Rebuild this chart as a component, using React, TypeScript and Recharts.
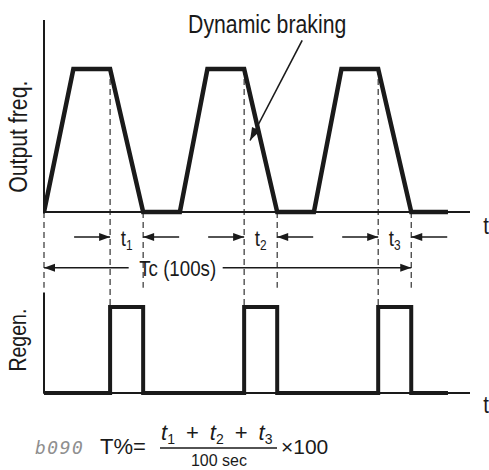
import { ComposedChart, Line, XAxis, YAxis, ReferenceLine } from 'recharts'

// time (s) and relative level of the output frequency
const freqTime = [0, 8, 18, 27, 37, 44.5, 54.5, 63.5, 73.5, 81, 91, 100, 110]
const freqLevel = [0, 1, 1, 0, 0, 1, 1, 0, 0, 1, 1, 0, 0]

// regenerative braking on/off
const regenTime = [0, 18, 18, 27, 27, 54.5, 54.5, 63.5, 63.5, 91, 91, 100, 100, 110]
const regenLevel = [0, 0, 1, 1, 0, 0, 1, 1, 0, 0, 1, 1, 0, 0]

// braking windows t1, t2, t3
const brakeStart = [18, 54.5, 91]
const brakeEnd = [27, 63.5, 100]
const brakeSubs = ['1', '2', '3']

const cycleEnd = 100
const cycleLabel = 'Tc (100s)'
const timeMax = 116

const FONT = "'Liberation Sans', Arial, sans-serif"
const SX = 0.85 // squeeze to mimic a condensed face
const INK = '#1a1a1a'

// layout of the two panels inside one plot area
const PLOT_TOP = 20
const PLOT_BOTTOM = 395
const F_ZERO = 212
const F_ONE = 69
const R_ZERO = 393
const R_ONE = 307

const fUnit = F_ZERO - F_ONE
const rUnit = R_ZERO - R_ONE
const fDomain = [-(PLOT_BOTTOM - F_ZERO) / fUnit, (F_ZERO - PLOT_TOP) / fUnit]
const rDomain = [-(PLOT_BOTTOM - R_ZERO) / rUnit, (R_ZERO - PLOT_TOP) / rUnit]
// express a regen level on the freq axis
const regenToFreq = (v: number) => (F_ZERO - (R_ZERO - v * rUnit)) / fUnit

// annotation rows, in freq-axis units
const tRow = -0.175
const tcRow = -0.39
const guideBottom = -0.53
const regenAxisTop = 1.17

const freqData = freqTime.map((t, i) => ({ t, v: freqLevel[i] }))
const regenData = regenTime.map((t, i) => ({ t, v: regenLevel[i] }))

function Narrow({ x, y, size, rotate = 0, anchor = 'middle', children }: any) {
  return (
    <text
      transform={`translate(${x} ${y}) rotate(${rotate}) scale(${SX} 1)`}
      textAnchor={anchor}
      fontFamily={FONT}
      fontSize={size}
      fill={INK}
    >
      {children}
    </text>
  )
}

function head(x1: number, y1: number, x2: number, y2: number, len = 11, half = 4) {
  const a = Math.atan2(y2 - y1, x2 - x1)
  const bx = x2 - len * Math.cos(a)
  const by = y2 - len * Math.sin(a)
  const px = -Math.sin(a) * half
  const py = Math.cos(a) * half
  return `${x2},${y2} ${bx + px},${by + py} ${bx - px},${by - py}`
}

const axisShape = (label: string, dy: number) => (p: any) => (
  <g>
    <line x1={p.x1} y1={p.y1} x2={p.x2} y2={p.y2} stroke={INK} strokeWidth={2} />
    <Narrow x={p.x2 + 16} y={p.y2 + dy} size={24}>{label}</Narrow>
  </g>
)

const yLabelShape = (label: string, bx: number, size: number, shift = 0) => (p: any) => {
  const cy = (p.y1 + p.y2) / 2 + shift
  return (
    <g>
      <line x1={p.x1} y1={p.y1} x2={p.x2} y2={p.y2} stroke={INK} strokeWidth={2} />
      <Narrow x={bx} y={cy} size={size} rotate={-90}>{label}</Narrow>
    </g>
  )
}

const arrowShape = (p: any) => (
  <g>
    <line x1={p.x1} y1={p.y1} x2={p.x2} y2={p.y2} stroke={INK} strokeWidth={1.6} />
    <polygon points={head(p.x1, p.y1, p.x2, p.y2)} fill={INK} />
  </g>
)

const subLabelShape = (sub: string) => (p: any) => (
  <Narrow x={(p.x1 + p.x2) / 2} y={p.y1 + 9} size={22}>
    t<tspan fontSize={14} dy={4}>{sub}</tspan>
  </Narrow>
)

const cycleShape = (p: any) => {
  const cx = p.x1 + (p.x2 - p.x1) * 0.364
  return (
    <g>
      <line x1={p.x1} y1={p.y1} x2={cx - 49} y2={p.y1} stroke={INK} strokeWidth={1.6} />
      <polygon points={head(cx - 49, p.y1, p.x1, p.y1)} fill={INK} />
      <line x1={cx + 45} y1={p.y1} x2={p.x2} y2={p.y1} stroke={INK} strokeWidth={1.6} />
      <polygon points={head(cx + 45, p.y1, p.x2, p.y1)} fill={INK} />
      <Narrow x={cx} y={p.y1 + 8} size={22}>{cycleLabel}</Narrow>
    </g>
  )
}

const brakingShape = (p: any) => (
  <g>
    <line x1={p.x1} y1={p.y1} x2={p.x2} y2={p.y2} stroke={INK} strokeWidth={1.6} />
    <polygon points={head(p.x1, p.y1, p.x2, p.y2, 13, 4.5)} fill={INK} />
    <Narrow x={p.x1 - 35} y={p.y1 - 7} size={25}>Dynamic braking</Narrow>
  </g>
)

const guide = { stroke: '#333', strokeWidth: 1.2, strokeDasharray: '6 4', ifOverflow: 'visible' as const }
const PLUS = '\u2002+\u2002'

export default function App() {
  return (
    <div style={{ position: 'absolute', left: 0, top: 0, width: 489, height: 470, background: '#fff', overflow: 'hidden' }}>
      <ComposedChart width={489} height={470} margin={{ top: PLOT_TOP, right: 19, bottom: 470 - PLOT_BOTTOM, left: 44 }}>
        <XAxis type="number" dataKey="t" domain={[0, timeMax]} hide allowDataOverflow />
        <YAxis yAxisId="f" domain={fDomain} hide allowDataOverflow />
        <YAxis yAxisId="r" domain={rDomain} hide allowDataOverflow />

        {/* guide lines */}
        <ReferenceLine yAxisId="f" segment={[{ x: 0, y: 0 }, { x: 0, y: guideBottom }]} {...guide} />
        {brakeStart.map((t) => (
          <ReferenceLine key={'s' + t} yAxisId="f" segment={[{ x: t, y: 1 }, { x: t, y: regenToFreq(1) }]} {...guide} />
        ))}
        {brakeEnd.map((t) => (
          <ReferenceLine key={'e' + t} yAxisId="f" segment={[{ x: t, y: 0 }, { x: t, y: guideBottom }]} {...guide} />
        ))}

        {/* axes */}
        <ReferenceLine yAxisId="f" segment={[{ x: 0, y: -0.01 }, { x: 0, y: fDomain[1] }]} ifOverflow="visible" shape={yLabelShape('Output freq.', 27, 25, 20)} />
        <ReferenceLine yAxisId="f" segment={[{ x: 0, y: 0 }, { x: timeMax, y: 0 }]} ifOverflow="visible" shape={axisShape('t', 22)} />
        <ReferenceLine yAxisId="r" segment={[{ x: 0, y: -0.01 }, { x: 0, y: regenAxisTop }]} ifOverflow="visible" shape={yLabelShape('Regen.', 26, 23, -3)} />
        <ReferenceLine yAxisId="r" segment={[{ x: 0, y: 0 }, { x: timeMax, y: 0 }]} ifOverflow="visible" shape={axisShape('t', 20)} />

        {/* t1..t3 arrows */}
        {brakeStart.map((t, i) => (
          <ReferenceLine key={'a' + i} yAxisId="f" segment={[{ x: t - 9.8, y: tRow }, { x: t, y: tRow }]} ifOverflow="visible" shape={arrowShape} />
        ))}
        {brakeEnd.map((t, i) => (
          <ReferenceLine key={'b' + i} yAxisId="f" segment={[{ x: t + 9.8, y: tRow }, { x: t, y: tRow }]} ifOverflow="visible" shape={arrowShape} />
        ))}
        {brakeStart.map((t, i) => (
          <ReferenceLine key={'l' + i} yAxisId="f" segment={[{ x: t, y: tRow }, { x: brakeEnd[i], y: tRow }]} ifOverflow="visible" shape={subLabelShape(brakeSubs[i])} />
        ))}
        <ReferenceLine yAxisId="f" segment={[{ x: 0, y: tcRow }, { x: cycleEnd, y: tcRow }]} ifOverflow="visible" shape={cycleShape} />

        {/* dynamic braking callout */}
        <ReferenceLine yAxisId="f" segment={[{ x: 70.3, y: 1.2 }, { x: 56.1, y: 0.5 }]} ifOverflow="visible" shape={brakingShape} />

        <Line data={freqData} yAxisId="f" dataKey="v" type="linear" stroke={INK} strokeWidth={4.5} strokeLinejoin="miter" dot={false} activeDot={false} isAnimationActive={false} />
        <Line data={regenData} yAxisId="r" dataKey="v" type="linear" stroke={INK} strokeWidth={4} strokeLinejoin="miter" dot={false} activeDot={false} isAnimationActive={false} />
      </ComposedChart>

      <svg width={489} height={470} style={{ position: 'absolute', left: 0, top: 0, pointerEvents: 'none' }}>
        <text x={35} y={454} fontFamily="'DejaVu Sans Mono', monospace" fontStyle="italic" fontSize={18} fill="#8f8f8f" letterSpacing={1.5}>
          b090
        </text>
        <text x={100} y={454} fontFamily={FONT} fontSize={22} fill={INK}>
          T%=
        </text>
        <text x={161} y={440} fontFamily={FONT} fontSize={22} fill={INK}>
          <tspan fontStyle="italic">t</tspan>
          <tspan fontSize={14} dy={4}>1</tspan>
          <tspan dy={-4}>{PLUS}</tspan>
          <tspan fontStyle="italic">t</tspan>
          <tspan fontSize={14} dy={4}>2</tspan>
          <tspan dy={-4}>{PLUS}</tspan>
          <tspan fontStyle="italic">t</tspan>
          <tspan fontSize={14} dy={4}>3</tspan>
        </text>
        <line x1={160} y1={448} x2={277} y2={448} stroke={INK} strokeWidth={1.3} />
        <text x={281} y={454} fontFamily={FONT} fontSize={21} fill={INK}>
          ×100
        </text>
        <text x={219} y={466} textAnchor="middle" fontFamily={FONT} fontSize={16} fill={INK}>
          100 sec
        </text>
      </svg>
    </div>
  )
}
